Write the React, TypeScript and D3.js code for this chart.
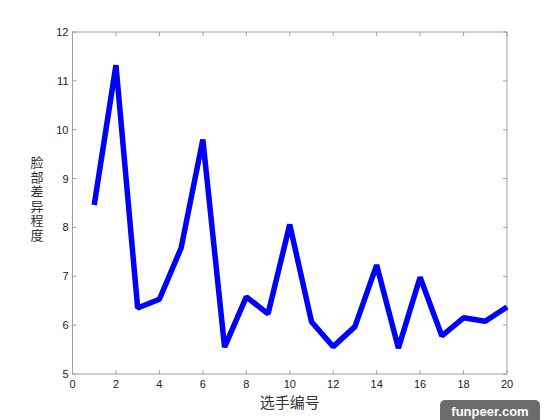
import React, { useEffect, useRef } from "react";
import * as d3 from "d3";

const players = d3.range(1, 21);
const diffs = [8.46, 11.32, 6.35, 6.53, 7.58, 9.8, 5.55, 6.58, 6.23, 8.06, 6.07, 5.56, 5.97, 7.23, 5.53, 6.98, 5.78, 6.15, 6.08, 6.37];
const xTicks = [0, 2, 4, 6, 8, 10, 12, 14, 16, 18, 20];
const yTicks = [5, 6, 7, 8, 9, 10, 11, 12];
const yLabel = "脸部差异程度";
const xLabel = "选手编号";

const width = 560;
const height = 420;
const margin = { top: 32, right: 53, bottom: 46, left: 72.5 };

const App = () => {
  const ref = useRef<SVGSVGElement>(null);

  useEffect(() => {
    const svg = d3.select(ref.current);
    svg.selectAll("*").remove();

    const x = d3.scaleLinear().domain([0, 20]).range([margin.left, width - margin.right]);
    const y = d3.scaleLinear().domain([5, 12]).range([height - margin.bottom, margin.top]);
    const [x0, x1] = x.range();
    const [y0, y1] = y.range();

    const axisColor = "#a0a0a0";
    const font = "Arial, 'Liberation Sans', sans-serif";

    const g = svg.append("g");

    // frame
    g.append("rect")
      .attr("x", x0)
      .attr("y", y1)
      .attr("width", x1 - x0)
      .attr("height", y0 - y1)
      .attr("fill", "none")
      .attr("stroke", axisColor)
      .attr("stroke-width", 1);

    // x ticks (bottom and top, pointing inward)
    xTicks.forEach(t => {
      g.append("line").attr("x1", x(t)).attr("x2", x(t)).attr("y1", y0).attr("y2", y0 - 4).attr("stroke", axisColor);
      g.append("line").attr("x1", x(t)).attr("x2", x(t)).attr("y1", y1).attr("y2", y1 + 4).attr("stroke", axisColor);
      g.append("text")
        .attr("x", x(t))
        .attr("y", y0 + 14)
        .attr("text-anchor", "middle")
        .attr("font-family", font)
        .attr("font-size", 11)
        .attr("fill", "#222")
        .text(t);
    });

    // y ticks
    yTicks.forEach(t => {
      g.append("line").attr("x1", x0).attr("x2", x0 + 4).attr("y1", y(t)).attr("y2", y(t)).attr("stroke", axisColor);
      g.append("line").attr("x1", x1).attr("x2", x1 - 4).attr("y1", y(t)).attr("y2", y(t)).attr("stroke", axisColor);
      g.append("text")
        .attr("x", x0 - 4)
        .attr("y", y(t) + 4)
        .attr("text-anchor", "end")
        .attr("font-family", font)
        .attr("font-size", 11)
        .attr("fill", "#222")
        .text(t);
    });

    const line = d3
      .line<number>()
      .x((d, i) => x(players[i]))
      .y(d => y(d));

    g.append("path")
      .datum(diffs)
      .attr("d", line)
      .attr("fill", "none")
      .attr("stroke", "#0000ff")
      .attr("stroke-width", 5.5)
      .attr("stroke-linejoin", "bevel");

    // y label, written top to bottom
    g.append("text")
      .attr("x", 37)
      .attr("y", 156)
      .attr("writing-mode", "tb")
      .attr("glyph-orientation-vertical", 0)
      .attr("letter-spacing", 1.5)
      .attr("font-family", "'Noto Sans CJK SC', sans-serif")
      .attr("font-size", 13)
      .attr("fill", "#333")
      .text(yLabel);

    g.append("text")
      .attr("x", (x0 + x1) / 2)
      .attr("y", 408)
      .attr("text-anchor", "middle")
      .attr("font-family", "'Noto Sans CJK SC', sans-serif")
      .attr("font-size", 15)
      .attr("fill", "#333")
      .text(xLabel);

    // watermark
    g.append("rect")
      .attr("x", 440)
      .attr("y", 400)
      .attr("width", 100)
      .attr("height", 26)
      .attr("rx", 5)
      .attr("fill", "#6b6b6b");
    g.append("text")
      .attr("x", 490)
      .attr("y", 416)
      .attr("text-anchor", "middle")
      .attr("font-family", font)
      .attr("font-weight", "bold")
      .attr("font-size", 13)
      .attr("fill", "#fff")
      .text("funpeer.com");
  }, []);

  return (
    <svg
      ref={ref}
      width={width}
      height={height}
      style={{ position: "absolute", left: 0, top: 0, background: "#fff" }}
    ></svg>
  );
};

export default App;
